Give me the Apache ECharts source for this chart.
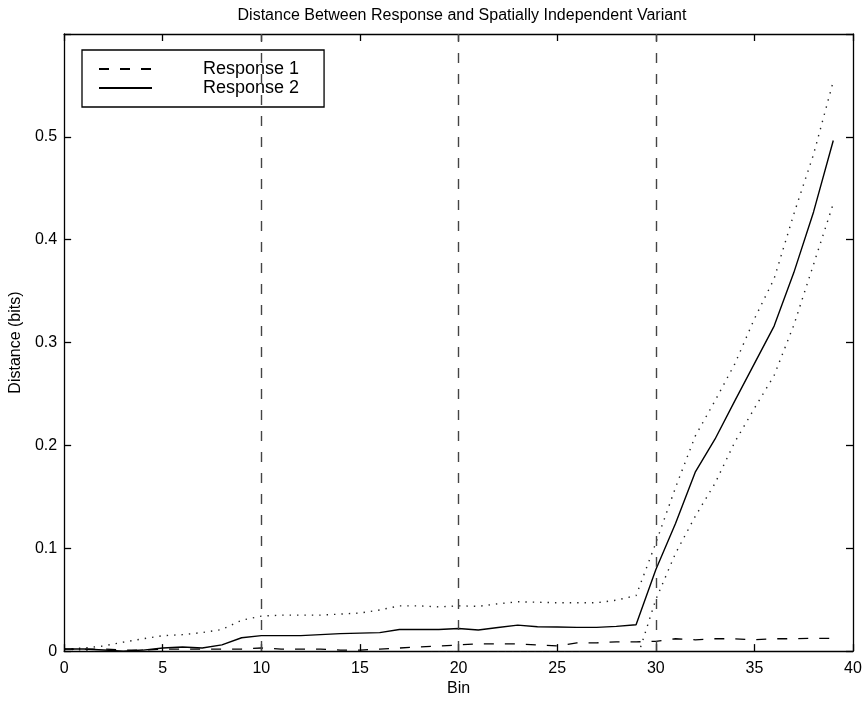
<!DOCTYPE html>
<html>
<head>
<meta charset="utf-8">
<script src="https://cdn.jsdelivr.net/npm/echarts@6/dist/echarts.min.js"></script>
<style>
html,body{margin:0;padding:0;background:#fff;}
#chart{width:865px;height:702px;}
</style>
</head>
<body>
<div id="chart"></div>
<script>
const bins = [0,1,2,3,4,5,6,7,8,9,10,11,12,13,14,15,16,17,18,19,20,21,22,23,24,25,26,27,28,29,30,31,32,33,34,35,36,37,38,39];
const response1 = [0.002,0.002,0.002,0.001,0.001,0.002,0.002,0.002,0.002,0.002,0.003,0.002,0.002,0.002,0.001,0.001,0.002,0.003,0.004,0.005,0.006,0.007,0.007,0.007,0.006,0.005,0.008,0.008,0.009,0.009,0.0095,0.012,0.011,0.012,0.012,0.011,0.012,0.012,0.0125,0.0123];
const response2 = [0.002,0.002,0.001,0.000,0.001,0.003,0.004,0.003,0.006,0.013,0.015,0.015,0.015,0.016,0.017,0.0175,0.018,0.021,0.021,0.021,0.022,0.0205,0.023,0.0253,0.0237,0.0235,0.0231,0.0231,0.024,0.0256,0.079,0.124,0.174,0.206,0.243,0.2795,0.316,0.368,0.427,0.4965];
const upperBound = [0.002,0.003,0.005,0.0087,0.012,0.015,0.016,0.018,0.021,0.030,0.034,0.035,0.035,0.035,0.036,0.037,0.040,0.044,0.044,0.043,0.044,0.0435,0.046,0.048,0.0475,0.047,0.047,0.047,0.0495,0.054,0.105,0.159,0.209,0.2433,0.279,0.323,0.362,0.425,0.483,0.554];
const lowerBound = [0.002,0.001,-0.003,-0.009,-0.010,-0.009,-0.008,-0.012,-0.009,-0.004,-0.004,-0.005,-0.005,-0.003,-0.002,-0.002,-0.004,-0.002,-0.002,-0.001,-0.001,-0.003,-0.001,-0.001,-0.001,-0.001,-0.001,-0.002,-0.002,-0.010,0.05,0.095,0.131,0.163,0.203,0.236,0.268,0.317,0.376,0.435];
const dividers = [10,20,30];
const xTicks = [0,5,10,15,20,25,30,35,40];
const yTicks = [0,0.1,0.2,0.3,0.4,0.5];

const FONT = '"Liberation Sans", Arial, Helvetica, sans-serif';
const pairs = arr => bins.map((b,i)=>[b, arr[i]]);

const chart = echarts.init(document.getElementById('chart'), null, {renderer:'canvas'});
const axisLineStyle = {color:'#000', width:1.3};
const tickInside = {show:true, inside:true, length:7, lineStyle:{color:'#000', width:1.3}};

chart.setOption({
  backgroundColor:'#fff',
  animation:false,
  title:{
    text:'Distance Between Response and Spatially Independent Variant',
    left:457, top:3, textAlign:'center',
    textStyle:{fontFamily:FONT, fontSize:16, fontWeight:'normal', color:'#000'}
  },
  legend:{
    data:['Response 1','Response 2'],
    orient:'vertical',
    left:82, top:50,
    padding:[9.5,25,9.5,16],
    itemGap:0,
    itemWidth:53, itemHeight:19,
    borderColor:'#000', borderWidth:1.3, borderRadius:0,
    backgroundColor:'#fff',
    itemStyle:{opacity:0},
    lineStyle:{opacity:1},
    textStyle:{fontFamily:FONT, fontSize:18, color:'#000', lineHeight:19, padding:[0,0,0,46]}
  },
  grid:{left:62, right:12, top:34, bottom:44, containLabel:false},
  xAxis:[{
    type:'value', min:0, max:40, interval:5,
    name:'Bin', nameLocation:'middle', nameGap:25,
    nameTextStyle:{fontFamily:FONT, fontSize:16, color:'#000'},
    axisLine:{show:true, lineStyle:axisLineStyle},
    axisTick:tickInside,
    axisLabel:{fontFamily:FONT, fontSize:16, color:'#000', margin:9,
      formatter:v => xTicks.includes(v) ? String(v) : ''},
    splitLine:{show:false}
  },{
    type:'value', min:0, max:40, interval:5, position:'top',
    axisLine:{show:true, onZero:false, lineStyle:axisLineStyle},
    axisTick:tickInside, axisLabel:{show:false}, splitLine:{show:false}
  }],
  yAxis:[{
    type:'value', min:0, max:0.6, interval:0.1,
    name:'Distance (bits)', nameLocation:'middle', nameGap:36, nameRotate:90,
    nameTextStyle:{fontFamily:FONT, fontSize:16, color:'#000'},
    axisLine:{show:true, lineStyle:axisLineStyle},
    axisTick:tickInside,
    axisLabel:{fontFamily:FONT, fontSize:16, color:'#000', margin:7,
      formatter:v => { const t = yTicks.find(y=>Math.abs(y-v)<1e-9); return t===undefined ? '' : String(t); }},
    splitLine:{show:false}
  },{
    type:'value', min:0, max:0.6, interval:0.1, position:'right',
    axisLine:{show:true, onZero:false, lineStyle:axisLineStyle},
    axisTick:tickInside, axisLabel:{show:false}, splitLine:{show:false}
  }],
  series:[
    {
      name:'Response 1', type:'line', data:pairs(response1), symbol:'none',
      lineStyle:{color:'#000', width:1.3, type:[10,11]}, itemStyle:{color:'#000'},
      markLine:{
        silent:true, symbol:['none','none'], label:{show:false},
        lineStyle:{color:'#444', width:1.4, type:[10,11]},
        data:dividers.map(d=>({xAxis:d}))
      },
      z:3
    },
    {
      name:'Response 2', type:'line', data:pairs(response2), symbol:'none',
      lineStyle:{color:'#000', width:1.4, type:'solid'}, itemStyle:{color:'#000'}, z:4
    },
    {
      name:'Upper', type:'line', data:pairs(upperBound), symbol:'none',
      lineStyle:{color:'#222', width:1.4, type:[1.4,6]}, z:2
    },
    {
      name:'Lower', type:'line', data:pairs(lowerBound), symbol:'none',
      lineStyle:{color:'#222', width:1.4, type:[1.4,6]}, z:2
    }
  ]
});
</script>
</body>
</html>
